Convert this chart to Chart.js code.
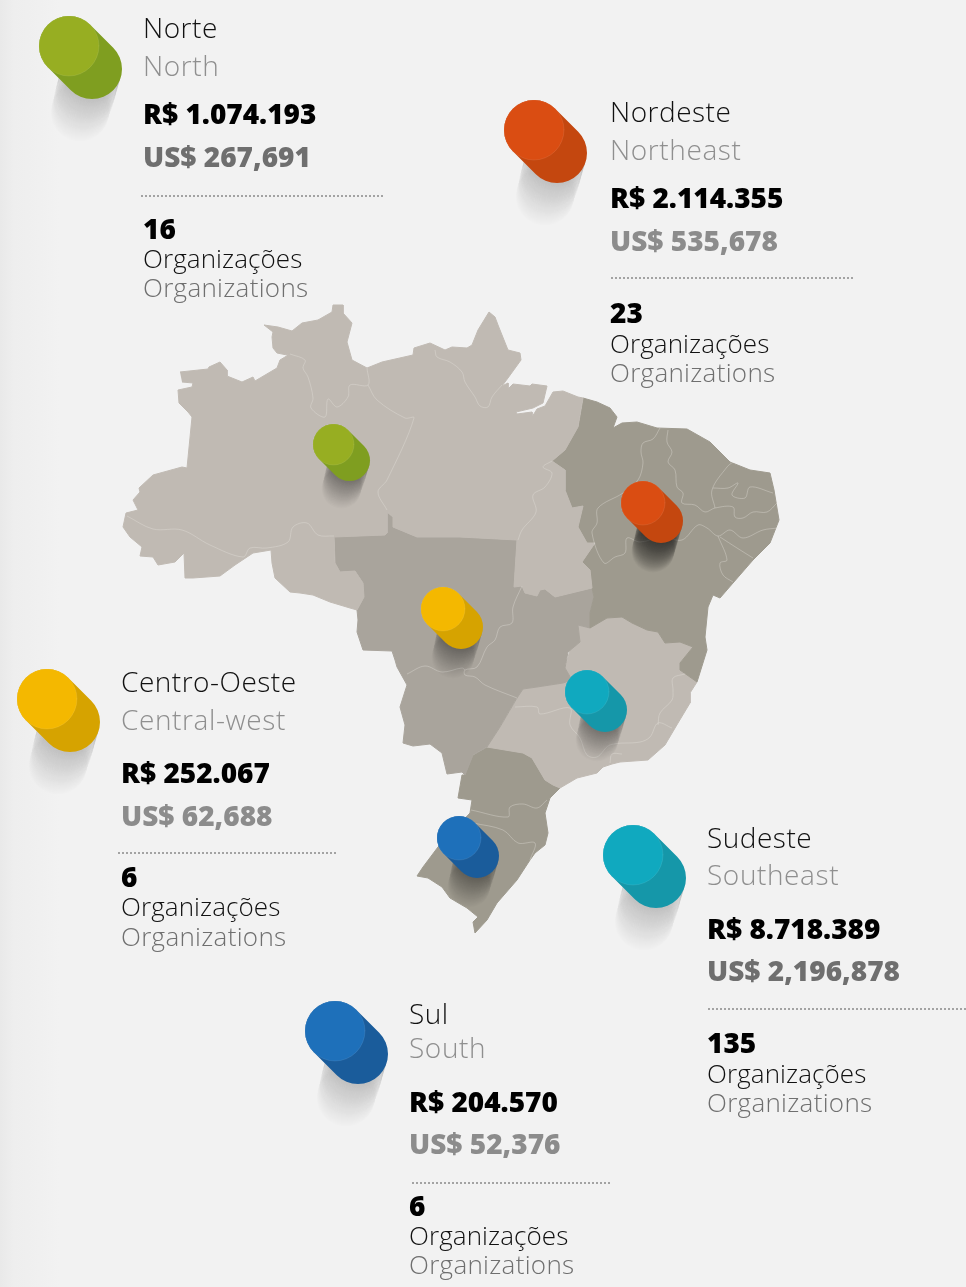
<!DOCTYPE html>
<html>
<head>
<meta charset="utf-8">
<title>Organizações por região</title>
<script src="https://cdn.jsdelivr.net/npm/chart.js@4"></script>
<style>
  html, body { margin: 0; padding: 0; }
  body { width: 966px; height: 1287px; overflow: hidden;
         background: linear-gradient(90deg, #e9e9e9 0, #eeeeee 14px, #f0f0f0 40px, #f2f2f2 60px); }
  canvas { display: block; }
</style>
</head>
<body>
<canvas id="map" width="966" height="1287"></canvas>
<script>
// region figures
const regionsPt = ["Norte", "Nordeste", "Centro-Oeste", "Sudeste", "Sul"];
const regionsEn = ["North", "Northeast", "Central-west", "Southeast", "South"];
const valuesBrl = ["R$ 1.074.193", "R$ 2.114.355", "R$ 252.067", "R$ 8.718.389", "R$ 204.570"];
const valuesUsd = ["US$ 267,691", "US$ 535,678", "US$ 62,688", "US$ 2,196,878", "US$ 52,376"];
const orgCounts = [16, 23, 6, 135, 6];
const orgLabelPt = "Organizações";
const orgLabelEn = "Organizations";

// map outlines
const northOutline = [[180,372],[208,369],[209,367],[220,362],[227,370],[227,376],[242,382],[253,377],[255,381],[277,368],[280,360],[290,354],[287,355],[277,353],[273,348],[272,337],[273,332],[264,325],[278,327],[292,331],[302,323],[318,320],[332,312],[333,305],[343,305],[343,313],[352,323],[347,342],[352,360],[367,368],[382,362],[413,355],[414,348],[430,343],[445,350],[452,347],[467,348],[472,345],[478,330],[489,312],[495,317],[498,325],[508,350],[520,353],[521,360],[508,378],[502,386],[508,383],[508,389],[513,384],[530,386],[532,384],[547,386],[543,403],[533,408],[516,412],[517,414],[532,412],[532,417],[537,409],[545,406],[553,392],[563,391],[578,397],[583,398],[578,427],[565,450],[552,461],[565,470],[565,490],[572,508],[583,506],[578,527],[587,543],[595,543],[582,562],[590,570],[592,588],[555,597],[545,589],[540,590],[537,596],[525,593],[522,586],[514,587],[517,540],[460,537],[417,537],[393,527],[393,517],[387,512],[387,533],[385,535],[334,537],[335,563],[340,572],[355,571],[363,583],[364,597],[357,610],[350,608],[330,602],[313,595],[300,593],[290,592],[275,578],[272,563],[271,550],[253,553],[235,565],[220,576],[193,578],[185,578],[184,553],[175,562],[158,565],[153,557],[140,556],[142,547],[130,537],[123,527],[126,513],[138,510],[133,500],[140,492],[139,488],[153,475],[182,467],[187,468],[192,417],[188,412],[179,403],[178,390],[192,387],[193,383],[182,382]];
const midwestOutline = [[334,537],[385,535],[387,533],[387,512],[393,517],[393,527],[417,537],[460,537],[517,540],[514,587],[522,586],[525,593],[537,596],[540,590],[545,589],[555,597],[592,588],[594,597],[590,613],[590,628],[578,625],[580,642],[568,652],[565,668],[572,680],[563,683],[537,687],[523,689],[517,698],[500,727],[487,747],[473,755],[465,775],[462,772],[447,774],[442,753],[430,744],[413,746],[403,743],[405,725],[400,707],[407,685],[397,667],[395,660],[392,651],[363,650],[357,632],[358,620],[357,610],[364,597],[363,583],[355,571],[340,572],[335,563]];
const northeastOutline = [[583,398],[597,402],[610,408],[617,417],[613,428],[622,423],[637,422],[657,428],[687,429],[710,442],[730,462],[750,470],[770,473],[774,490],[779,520],[770,543],[753,560],[733,583],[720,598],[713,595],[708,607],[705,637],[707,650],[697,682],[680,670],[680,663],[693,647],[680,642],[665,643],[658,632],[647,630],[632,623],[622,617],[607,618],[590,628],[590,613],[594,597],[592,588],[590,570],[582,562],[595,543],[587,543],[578,527],[583,506],[572,508],[565,490],[565,470],[552,461],[565,450],[578,427]];
const southeastOutline = [[517,698],[523,689],[537,687],[563,683],[572,680],[565,668],[570,650],[580,642],[578,625],[590,628],[607,618],[622,617],[632,623],[647,630],[658,632],[665,643],[680,642],[693,647],[680,663],[680,670],[697,682],[690,693],[690,703],[678,723],[665,745],[648,760],[620,762],[612,764],[603,767],[597,773],[577,778],[560,788],[553,785],[545,780],[532,758],[523,753],[487,747],[500,727]];
const southOutline = [[487,747],[523,753],[532,758],[545,780],[553,785],[560,788],[550,798],[545,813],[548,833],[545,845],[535,853],[530,860],[517,880],[497,903],[487,920],[475,933],[473,922],[478,917],[467,908],[450,898],[442,887],[428,878],[417,876],[423,867],[438,847],[470,813],[472,800],[458,798],[462,775],[465,775],[473,755]];

// state borders inside the regions
const stateBorders = [
  [[127,516],[153,529],[182,530],[210,545],[243,557],[250,548],[267,548],[288,542],[293,527],[307,523],[318,535],[334,536]],
  [[290,354],[305,360],[303,368],[308,377],[313,398],[311,408],[325,417],[328,399],[337,407],[348,397],[350,385],[368,385],[367,368]],
  [[368,385],[377,400],[405,418],[414,418],[387,480],[378,492],[387,510]],
  [[435,350],[437,357],[450,362],[462,372],[465,382],[475,397],[480,406],[488,407],[492,397],[502,385]],
  [[552,461],[543,467],[552,473],[545,487],[533,495],[536,512],[522,530],[518,540]],
  [[660,428],[653,439],[643,443],[641,452],[643,463],[638,480],[623,493],[598,508],[597,523],[592,533],[604,563],[615,557],[625,553],[627,538],[640,542],[663,537],[682,540],[698,525],[707,528],[718,536],[730,530],[743,538],[763,530],[778,528]],
  [[668,430],[667,442],[672,452],[668,462],[675,470],[677,487],[683,493],[682,503],[695,505],[705,512],[715,508],[733,507],[735,517],[743,518],[753,512],[767,512],[777,503]],
  [[715,508],[712,490],[727,467],[733,462]],
  [[713,488],[728,488],[738,483],[732,495],[745,498],[750,487],[773,493]],
  [[718,536],[727,560],[720,563],[723,575],[733,582]],
  [[720,537],[737,548],[753,558]],
  [[522,586],[513,607],[512,623],[500,627],[495,640],[487,647],[477,667],[465,670],[465,675],[475,677],[485,685],[517,698]],
  [[407,674],[425,666],[442,672],[462,668],[465,670]],
  [[515,707],[537,707],[540,714],[570,708],[570,725],[580,738],[587,755],[597,757],[610,745],[640,742],[650,737],[658,723],[672,728]],
  [[685,674],[673,678],[673,690],[672,700],[660,713],[658,725]],
  [[610,763],[612,754],[622,754]],
  [[471,810],[508,817],[510,807],[523,804],[537,808],[547,800]],
  [[473,823],[503,830],[518,843],[535,843],[530,860]]
];

// pin positions (centre of the front disc), same order as the regions
const legendPinX = [69, 534, 47, 633, 335];
const legendPinY = [46, 130, 699, 855, 1031];
const mapPinX = [333.5, 643, 443, 587, 459];
const mapPinY = [444.5, 503, 609, 692, 838];

// separators under the money figures
const sepFromX = [141, 611, 118, 708, 412];
const sepToX = [384, 853, 336, 966, 610];
const sepY = [196, 278, 853, 1009, 1183];

// text layout: left edge and baselines per block
const textX = [143, 610, 121, 707, 409];
const nameY = [38, 122, 692, 848, 1024];
const nameEnY = [76, 160, 730, 885, 1058];
const brlY = [124, 208, 783, 939, 1112];
const usdY = [167, 251, 826, 981, 1154];
const countY = [239, 323, 887, 1053, 1216];
const orgPtY = [268, 353, 916, 1083, 1245];
const orgEnY = [297, 382, 946, 1112, 1274];

const pinFront = ["#97ae22", "#da4d12", "#f4b800", "#10a9bf", "#1e70ba"];
const pinBack = ["#7f9e20", "#c4470f", "#d6a300", "#1597a9", "#1a5c9b"];

const toPoints = pairs => pairs.map(p => ({ x: p[0], y: p[1] }));

// builds the pin drawing used as a point style
function makePin(front, back, r, off, shadowDx, shadowDy, strength) {
  const size = Math.ceil(2 * (r + off + Math.max(Math.abs(shadowDx), shadowDy) + 4));
  const c = document.createElement("canvas");
  c.width = size;
  c.height = size;
  const g = c.getContext("2d");
  g.translate(size / 2, size / 2);
  const steps = 46;
  for (let i = steps; i >= 0; i--) {
    const t = i / steps;
    g.beginPath();
    g.arc(off + shadowDx * t, off + shadowDy * t, r - 0.5, 0, Math.PI * 2);
    g.fillStyle = "rgba(40,40,40," + strength + ")";
    g.fill();
    g.strokeStyle = "rgba(40,40,40," + (0.05 * (1 - t)) + ")";
    g.lineWidth = 0.6;
    g.stroke();
  }
  g.beginPath();
  g.moveTo(0, 0);
  g.lineTo(off, off);
  g.lineCap = "round";
  g.lineWidth = r * 2;
  g.strokeStyle = back;
  g.stroke();
  g.beginPath();
  g.arc(0, 0, r, 0, Math.PI * 2);
  g.fillStyle = front;
  g.fill();
  g.strokeStyle = "rgba(255,255,255,0.12)";
  g.lineWidth = 0.7;
  g.stroke();
  return c;
}

const legendPins = pinFront.map((f, i) => makePin(f, pinBack[i], 30, 23, -12, 43, 0.009));
const mapPins = pinFront.map((f, i) => i === 0
  ? makePin(f, pinBack[i], 20.5, 16, -8, 28, 0.012)
  : makePin(f, pinBack[i], 22, 18, -8, 30, i === 1 ? 0.022 : 0.012));

const regionSet = (label, outline, color) => ({
  label,
  data: toPoints(outline),
  showLine: true,
  fill: "shape",
  backgroundColor: color,
  borderColor: color,
  borderWidth: 1,
  pointRadius: 0,
  order: 5
});

const datasets = [
  { label: "Pins no mapa", data: mapPinX.map((x, i) => ({ x, y: mapPinY[i] })), pointRadius: 22,
    pointStyle: ctx => mapPins[ctx.dataIndex], order: 0 },
  { label: "Pins", data: legendPinX.map((x, i) => ({ x, y: legendPinY[i] })), pointRadius: 30,
    pointStyle: ctx => legendPins[ctx.dataIndex], order: 0 }
];

sepY.forEach((y, i) => datasets.push({
  label: "sep " + regionsPt[i],
  data: [{ x: sepFromX[i], y }, { x: sepToX[i], y }],
  showLine: true, borderColor: "#a3a3a3", borderWidth: 2, borderDash: [2, 2], pointRadius: 0, order: 1
}));

stateBorders.forEach((b, i) => datasets.push({
  label: "border " + i,
  data: toPoints(b),
  showLine: true, tension: 0.35, borderColor: "rgba(232,229,224,0.5)", borderWidth: 0.7, pointRadius: 0, order: 2
}));

datasets.push(regionSet(regionsPt[0], northOutline, "#c0bab3"));
datasets.push(regionSet(regionsPt[1], northeastOutline, "#9e9a8e"));
datasets.push(regionSet(regionsPt[2], midwestOutline, "#a9a49c"));
datasets.push(regionSet(regionsPt[3], southeastOutline, "#c0bab3"));
datasets.push(regionSet(regionsPt[4], southOutline, "#9e9a8e"));

const textPlugin = {
  id: "blockText",
  afterDraw(chart) {
    const { ctx, scales } = chart;
    const put = (text, x, y, font, color, spacing) => {
      ctx.font = font;
      ctx.fillStyle = color;
      ctx.letterSpacing = spacing || "0px";
      ctx.fillText(text, scales.x.getPixelForValue(x), scales.y.getPixelForValue(y));
    };
    ctx.save();
    ctx.textBaseline = "alphabetic";
    ctx.textAlign = "left";
    regionsPt.forEach((name, i) => {
      const x = textX[i];
      put(name, x, nameY[i], "300 28px 'Open Sans'", "#111111", "0.5px");
      put(regionsEn[i], x, nameEnY[i], "300 28px 'Open Sans'", "#8f8f8f", "0.6px");
      put(valuesBrl[i], x, brlY[i], "800 28px 'Open Sans'", "#000000");
      put(valuesUsd[i], x, usdY[i], "800 28px 'Open Sans'", i === 2 || i === 1 || i === 4 ? "#8c8c8c" : "#6f6f6f");
      put(String(orgCounts[i]), x, countY[i], "800 28px 'Open Sans'", "#000000");
      put(orgLabelPt, x, orgPtY[i], "300 26px 'Open Sans'", "#111111", "0.1px");
      put(orgLabelEn, x, orgEnY[i], "300 26px 'Open Sans'", "#6f6f6f", "0.3px");
    });
    ctx.restore();
  }
};

new Chart(document.getElementById("map"), {
  type: "scatter",
  data: { datasets },
  options: {
    responsive: false,
    animation: false,
    layout: { padding: 0, autoPadding: false },
    plugins: { legend: { display: false }, tooltip: { enabled: false } },
    scales: {
      x: { type: "linear", min: 0, max: 966, display: false },
      y: { type: "linear", min: 0, max: 1287, reverse: true, display: false }
    }
  },
  plugins: [textPlugin]
});
</script>
</body>
</html>
